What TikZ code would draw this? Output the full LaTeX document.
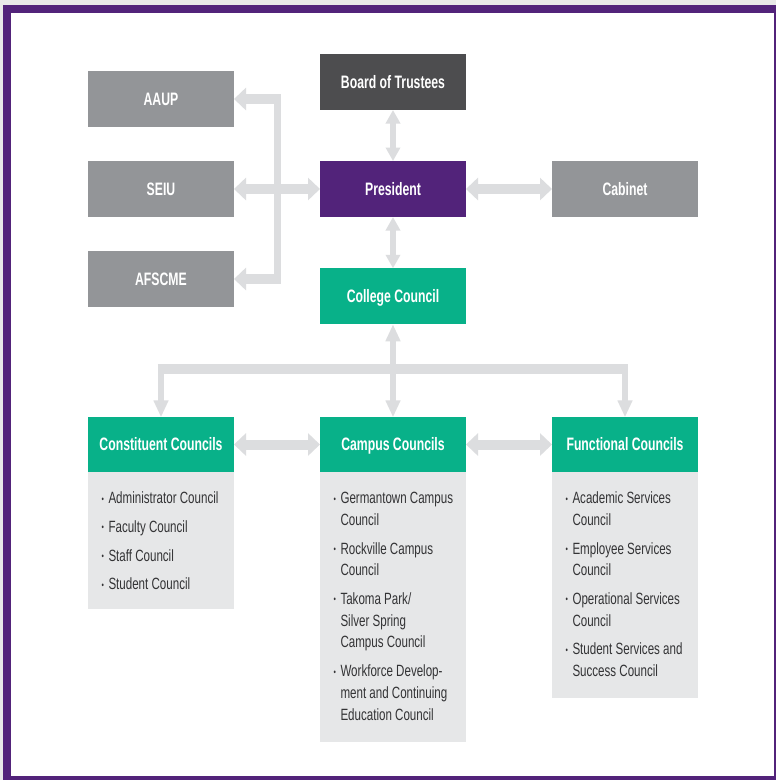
\documentclass[tikz,border=0pt]{standalone}
\usepackage{fontspec}
\setmainfont{Liberation Sans}[FakeStretch=0.77]
\newfontfamily\hdfont{Liberation Sans}[FakeStretch=0.68]
\newfontfamily\lsfont{Liberation Sans}[FakeStretch=0.71]
\usetikzlibrary{arrows.meta,calc}
\definecolor{frameP}{HTML}{52237A}
\definecolor{boardG}{HTML}{4D4D4F}
\definecolor{unitG}{HTML}{939598}
\definecolor{councilG}{HTML}{08B189}
\definecolor{listG}{HTML}{E6E7E8}
\definecolor{arrowG}{HTML}{DCDDDF}
\definecolor{textG}{HTML}{333335}
\definecolor{outerG}{HTML}{E8E8E8}
\newcommand{\bl}{\makebox[0pt][r]{\raisebox{1.6pt}{\fontsize{9.5}{9.5}\selectfont\textbullet}\hspace{4.5pt}}}
\newcommand{\fl}{\rule{0pt}{12.5pt}}
\tikzset{
  htip/.tip={Triangle[length=12pt,width=22pt]},
  vtip/.tip={Triangle[length=13.5pt,width=14pt]},
  vtipl/.tip={Triangle[length=17pt,width=14pt]},
  hbar/.style={draw=arrowG, line width=10pt},
  vbar/.style={draw=arrowG, line width=6.5pt},
  box/.style={rectangle, minimum width=146pt, minimum height=56pt, inner sep=0pt, outer sep=0pt,
    text=white, text height=14pt, text depth=1.1pt,
    font=\hdfont\fontsize{18}{20}\selectfont\bfseries},
  listbox/.style={rectangle, minimum width=146pt, inner sep=0pt, outer sep=0pt, fill=listG},
  listtext/.style={inner sep=0pt, outer sep=0pt, align=left, text=textG,
    font=\lsfont\fontsize{16.3}{21.7}\selectfont},
}
\begin{document}
\begin{tikzpicture}[x=1pt,y=-1pt]
\useasboundingbox (0,0) rectangle (776,780);
% frame
\fill[outerG] (0,0) rectangle (776,780);
\fill[frameP] (3,5) rectangle (776,780);
\fill[white] (11,13) rectangle (774,776);

% top nodes
\node[box, fill=unitG] (aaup) at (161,99) {AAUP};
\node[box, fill=unitG] (seiu) at (161,189) {SEIU};
\node[box, fill=unitG] (afscme) at (161,279) {AFSCME};
\node[box, fill=boardG] (board) at (393,82) {Board of Trustees};
\node[box, fill=frameP] (pres) at (393,189) {President};
\node[box, fill=unitG] (cab) at (625,189) {Cabinet};
\node[box, fill=councilG] (cc) at (393,296.3) {College Council};

% council headers
\node[box, fill=councilG, minimum height=54.4pt] (const) at (161,444.5) {Constituent Councils};
\node[box, fill=councilG, minimum height=54.4pt] (camp) at (393,444.5) {Campus Councils};
\node[box, fill=councilG, minimum height=54.4pt] (func) at (625,444.5) {Functional Councils};

% lists
\node[listbox, minimum height=137.6pt, anchor=north] (constL) at (const.south) {};
\node[listbox, minimum height=270.3pt, anchor=north] (campL) at (camp.south) {};
\node[listbox, minimum height=226pt, anchor=north] (funcL) at (func.south) {};

\node[listtext, anchor=north west] (constT) at ($(constL.north west)+(20.5,19.5)$)
  {\fl\bl Administrator Council\\[7pt]
   \bl Faculty Council\\[7pt]
   \bl Staff Council\\[7pt]
   \bl Student Council};
\node[listtext, anchor=north west] (campT) at ($(campL.north west)+(20.5,19.5)$)
  {\fl\bl Germantown Campus\\Council\\[7pt]
   \bl Rockville Campus\\Council\\[7pt]
   \bl Takoma Park/\\Silver Spring\\Campus Council\\[7pt]
   \bl Workforce Develop-\\ment and Continuing\\Education Council};
\node[listtext, anchor=north west] (funcT) at ($(funcL.north west)+(20.5,19.5)$)
  {\fl\bl Academic Services\\Council\\[7pt]
   \bl Employee Services\\Council\\[7pt]
   \bl Operational Services\\Council\\[7pt]
   \bl Student Services and\\Success Council};

% connectors around president
\draw[vbar, {vtip}-{vtip}] (board.south) -- (pres.north);
\draw[vbar, {vtip}-{vtip}] (pres.south) -- (cc.north);
\draw[hbar, {htip}-{htip}] (pres.east) -- (cab.west);
\draw[hbar, {htip}-{htip}] (seiu.east) -- (pres.west);

% union bracket
\coordinate (ut) at (277.5,94);
\coordinate (ub) at (277.5,284);
\coordinate (ua) at (280.75,99);
\coordinate (uc) at (280.75,279);
\draw[vbar] (ut) -- (ub);
\draw[hbar, -{htip}] (ua) -- (aaup.east);
\draw[hbar, -{htip}] (uc) -- (afscme.east);

% council tree
\coordinate (tl) at (157.75,369.3);
\coordinate (tr) at (628.25,369.3);
\coordinate (dl) at (161,364.3);
\coordinate (dr) at (625,364.3);
\draw[hbar] (tl) -- (tr);
\draw[vbar, -{vtipl}] (dl) -- (const.north);
\draw[vbar, -{vtipl}] (dr) -- (func.north);
\draw[vbar, {vtipl}-{vtipl}] (cc.south) -- (camp.north);

% bottom row
\draw[hbar, {htip}-{htip}] (const.east) -- (camp.west);
\draw[hbar, {htip}-{htip}] (camp.east) -- (func.west);
\end{tikzpicture}
\end{document}
